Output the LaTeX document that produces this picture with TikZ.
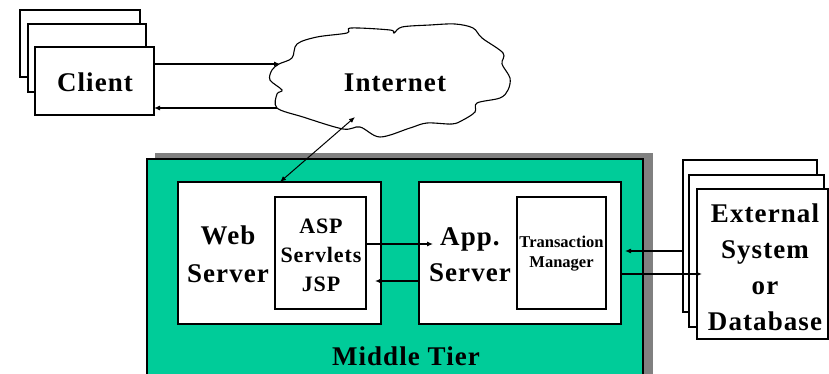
\documentclass[tikz,border=0pt]{standalone}
\usepackage{fontspec}
\setmainfont{Liberation Serif}[LetterSpace=4]
\newfontfamily\tightfont{Liberation Serif}
\usetikzlibrary{arrows.meta}
\definecolor{tiergreen}{RGB}{0,204,153}
\definecolor{shadowgray}{RGB}{128,128,128}

\begin{document}
\begin{tikzpicture}[x=1pt,y=-1pt,
  box/.style={draw=black, fill=white, line width=1.3pt, inner sep=0pt, outer sep=0pt},
  bigtext/.style={font=\fontsize{27}{36}\selectfont\bfseries, align=center, inner sep=0pt},
  midtext/.style={font=\fontsize{22}{29}\selectfont\bfseries, align=center, inner sep=0pt},
  smalltext/.style={font=\tightfont\fontsize{16.5}{20}\selectfont\bfseries, align=center, inner sep=0pt},
  link/.style={line width=1.1pt, -{Latex[length=6pt,width=5pt]}},
  twoway/.style={line width=1pt, {Latex[length=6pt,width=5pt]}-{Latex[length=6pt,width=5pt]}}]

\useasboundingbox (0,0) rectangle (829,374);
\clip (0,0) rectangle (829,374);

% client stack
\node[box, minimum width=120pt, minimum height=67pt] (client3) at (80,43.5) {};
\node[box, minimum width=118pt, minimum height=68pt] (client2) at (87,58) {};
\node[box, minimum width=119pt, minimum height=68pt] (client) at (94.5,81) {};
\node[bigtext] (clienttxt) at (95,82) {Client};

% internet cloud
\draw[line width=1.1pt, fill=white] plot[smooth cycle, tension=0.55] coordinates {
  (279,64) (292,58) (297,44) (317,37) (347,33) (351,28) (390,30) (394,33)
  (402,27) (430,25) (455,24) (473,28) (482,38) (503,53) (502,64) (510,78)
  (508,90) (500,98) (477,103) (475,112) (463,120) (452,124) (427,123)
  (410,128) (380,137) (360,127) (343,129) (303,117) (277,108) (277,94)
  (282,90) (270,80) (272,70)};
\node[bigtext] (internet) at (395,83) {Internet};
\coordinate (cloudin) at (280,64);
\coordinate (cloudout) at (277,108);
\coordinate (cloudlink) at (355,117);

% middle tier with drop shadow
\fill[shadowgray] (155,153) rectangle (653,380);
\draw[fill=tiergreen, line width=1.3pt] (147,159) rectangle (643,380);
\node[bigtext] (tier) at (406,356) {Middle Tier};

% web server
\node[box, minimum width=203pt, minimum height=142pt] (web) at (279.5,253) {};
\node[bigtext, font=\fontsize{27}{38}\selectfont\bfseries] (webtxt) at (228,254) {Web\\Server};
\node[box, minimum width=91pt, minimum height=112pt] (asp) at (320.5,253) {};
\node[midtext] (asptxt) at (321,255) {ASP\\Servlets\\JSP};

% application server
\node[box, minimum width=202pt, minimum height=142pt] (app) at (520,253) {};
\node[bigtext] (apptxt) at (470,255) {App.\\Server};
\node[box, minimum width=89pt, minimum height=112pt] (tm) at (561.5,253) {};
\node[smalltext] (tmtxt) at (561.5,254) {Transaction\\Manager};

% external system stack
\node[box, minimum width=134pt, minimum height=152pt] (ext3) at (750,236) {};
\node[box, minimum width=135pt, minimum height=152pt] (ext2) at (756.5,251) {};
\node[box, minimum width=131pt, minimum height=150pt] (ext) at (762.5,264) {};
\node[bigtext] (exttxt) at (765,267) {External\\System\\or\\Database};

% connectors
\draw[link] (client.east |- cloudin) -- (cloudin);
\draw[link] (cloudout) -- (client.east |- cloudout);
\draw[twoway] (cloudlink) -- (web.north -| 280,0);
\coordinate (appin) at (433,244);
\coordinate (webin) at (375,281);
\coordinate (extin) at (702,274);
\draw[link] (asp.east |- appin) -- (appin);
\draw[link] (app.west |- webin) -- (webin);
\draw[link] (ext3.west |- 0,251) -- ([xshift=4pt]app.east |- 0,251);
\draw[link] (app.east |- extin) -- (extin);
\end{tikzpicture}
\end{document}
